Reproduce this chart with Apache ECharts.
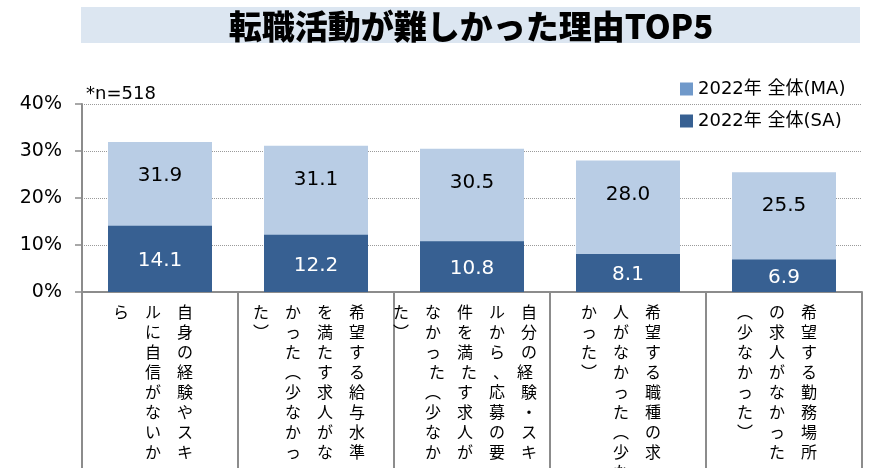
<!DOCTYPE html>
<html>
<head>
<meta charset="utf-8">
<script src="https://cdn.jsdelivr.net/npm/echarts@6/dist/echarts.min.js"></script>
<style>
  html, body { margin: 0; padding: 0; background: #fff; }
  #chart { width: 872px; height: 468px; }
</style>
</head>
<body>
<div id="chart"></div>
<script>
// ラベル（縦書きの列ごと、右の列から）
const categories = [
  ['自身の経験やスキ', 'ルに自信がないか', 'ら'],
  ['希望する給与水準', 'を満たす求人がな', 'かった︵少なかっ', 'た︶'],
  ['自分の経験・スキ', 'ルから、応募の要', '件を満たす求人が', 'なかった︵少なかっ', 'た︶'],
  ['希望する職種の求', '人がなかった︵少な', 'かった︶'],
  ['希望する勤務場所', 'の求人がなかった', '︵少なかった︶']
];
const seriesNames = ['2022年 全体(MA)', '2022年 全体(SA)'];
const valuesMA = [31.9, 31.1, 30.5, 28.0, 25.5];
const valuesSA = [14.1, 12.2, 10.8, 8.1, 6.9];
const yTicks = [0, 10, 20, 30, 40];

const numFont = 'DejaVu Sans';
const jpFont = 'Noto Sans CJK JP';

/**
 * 列の配列を縦書き風のテキストに変換
 */
function toVertical(cols) {
  const rows = Math.max.apply(null, cols.map(c => c.length));
  const lines = [];
  for (let i = 0; i < rows; i++) {
    const chars = cols.slice().reverse().map(c => c[i] || '\u3000');
    lines.push(chars.join('\u3000'));
  }
  return lines.join('\n');
}

const chart = echarts.init(document.getElementById('chart'), null, { renderer: 'canvas' });

const option = {
  animation: false,
  title: {
    text: '*n=518',
    left: 86,
    top: 85,
    padding: 0,
    textStyle: { fontFamily: numFont, fontSize: 18, fontWeight: 'normal', color: '#000' }
  },
  graphic: [
    {
      type: 'rect',
      shape: { x: 81, y: 7, width: 779, height: 36 },
      style: { fill: '#DCE6F1' },
      z: -10
    },
    {
      type: 'text',
      x: 471,
      y: 26,
      style: {
        text: '転職活動が難しかった理由TOP5',
        fontFamily: jpFont,
        fontSize: 33,
        fontWeight: 900,
        fill: '#000',
        textAlign: 'center',
        textVerticalAlign: 'middle'
      }
    }
  ],
  legend: {
    orient: 'vertical',
    left: 675,
    top: 75,
    itemWidth: 13,
    itemHeight: 13,
    itemGap: 14,
    textStyle: { fontFamily: numFont + ', ' + jpFont, fontSize: 18, color: '#000' },
    data: [
      { name: seriesNames[0], icon: 'rect', itemStyle: { color: '#7099CA' } },
      { name: seriesNames[1], icon: 'rect', itemStyle: { color: '#376092' } }
    ]
  },
  grid: { left: 82, right: 10, top: 104, bottom: 176, containLabel: false, outerBoundsMode: 'none' },
  xAxis: {
    type: 'category',
    data: categories.map(toVertical),
    axisLine: { lineStyle: { color: '#8C8C8C', width: 2 } },
    axisTick: { show: true, length: 180, lineStyle: { color: '#8C8C8C', width: 2 } },
    axisLabel: {
      interval: 0,
      margin: 10,
      fontFamily: jpFont,
      fontSize: 16,
      lineHeight: 20,
      color: '#000',
      padding: [0, 14, 0, 0]
    }
  },
  yAxis: {
    type: 'value',
    min: yTicks[0],
    max: yTicks[yTicks.length - 1],
    interval: 10,
    axisLine: { show: true, lineStyle: { color: '#8C8C8C', width: 2 } },
    axisTick: { show: true, length: 7, lineStyle: { color: '#8C8C8C', width: 1.5 } },
    axisLabel: {
      margin: 20,
      fontFamily: numFont,
      fontSize: 19,
      color: '#000',
      formatter: '{value}%'
    },
    splitLine: { lineStyle: { color: '#9A9A9A', type: 'dotted', width: 1 } }
  },
  series: [
    {
      name: seriesNames[0],
      type: 'bar',
      barWidth: 104,
      data: valuesMA,
      itemStyle: { color: '#B9CDE5' },
      label: {
        show: true,
        position: 'insideTop',
        distance: 24,
        fontFamily: numFont,
        fontSize: 20,
        color: '#000',
        formatter: function(p) { return p.value.toFixed(1); }
      }
    },
    {
      name: seriesNames[1],
      type: 'bar',
      barWidth: 104,
      barGap: '-100%',
      data: valuesSA,
      itemStyle: { color: '#376092' },
      label: {
        show: true,
        position: 'inside',
        offset: [0, 2],
        fontFamily: numFont,
        fontSize: 20,
        color: '#fff',
        formatter: function(p) { return p.value.toFixed(1); }
      }
    }
  ]
};

chart.setOption(option);
</script>
</body>
</html>
